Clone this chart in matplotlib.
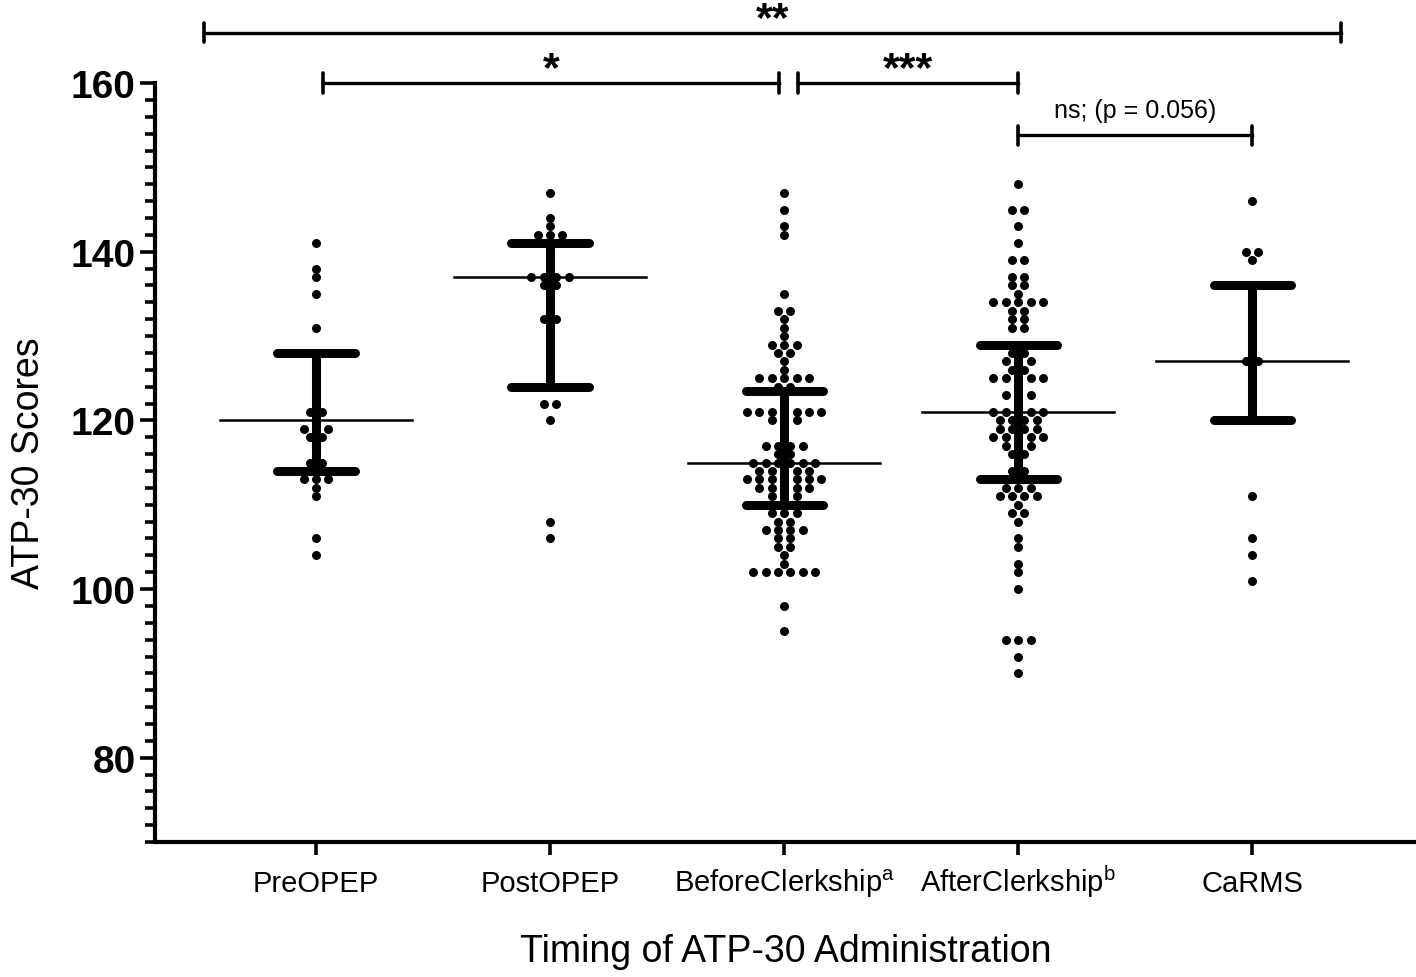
import numpy as np
import matplotlib
matplotlib.use("Agg")
from matplotlib import pyplot as plt
from matplotlib.ticker import MultipleLocator

plt.rcParams['font.family'] = ['Liberation Sans', 'DejaVu Sans']
plt.rcParams['mathtext.fontset'] = 'custom'
plt.rcParams['mathtext.rm'] = 'Liberation Sans'

# data
groups = ["PreOPEP", "PostOPEP", r"BeforeClerkship$^{\mathregular{a}}$",
          r"AfterClerkship$^{\mathregular{b}}$", "CaRMS"]

pre_opep = [141, 138, 137, 135, 131, 121, 121, 119, 119, 119, 118, 118,
            115, 115, 114, 114, 113, 113, 113, 112, 111, 106, 104]
post_opep = [147, 144, 143, 142, 142, 142, 137, 137, 137, 137, 136, 136,
             132, 132, 122, 122, 120, 108, 106]
before_clerk = ([147, 145, 143, 142, 135, 133, 133, 132, 131, 130]
                + [129] * 3 + [128] * 2 + [127, 126] + [125] * 5 + [124] * 2
                + [121] * 7 + [120] * 3 + [117] * 4 + [116] * 2 + [115] * 6
                + [114] * 5 + [113] * 7 + [112] * 5 + [111] * 3 + [110] * 2
                + [109] * 3 + [108] * 2 + [107] * 4 + [106] * 2 + [105] * 2
                + [104, 103] + [102] * 6 + [98, 95])
after_clerk = ([148, 145, 145, 143, 141, 139, 139, 137, 137, 136, 136, 135]
               + [134] * 5 + [133] * 2 + [132] * 2 + [131] * 2 + [128] * 2
               + [127] * 3 + [126] * 2 + [125] * 5 + [123] * 3 + [121] * 5
               + [120] * 4 + [119] * 4 + [118] * 5 + [117] * 3 + [116] * 2
               + [114] * 2 + [112] * 3 + [111] * 4 + [110, 109, 109, 108]
               + [106, 105, 103, 102, 100] + [94] * 3 + [92, 90])
carms = [146, 140, 140, 139, 127, 127, 111, 106, 104, 101]

medians = [120, 137, 115, 121, 127]
q1 = [114, 124, 110, 113, 120]
q3 = [128, 141, 123.5, 129, 136]

# significance brackets: (from, to, height, label)
brackets = [(-0.48, 4.38, 166.0, "**"),
            (0.03, 1.98, 160.0, "*"),
            (2.06, 3.0, 160.0, "***"),
            (3.0, 4.0, 153.8, "ns; (p = 0.056)")]

fig = plt.figure(figsize=(14.16, 9.78), dpi=100)
ax = fig.add_axes([0.1095, 0.138, 0.8905, 0.776])

all_data = [pre_opep, post_opep, before_clerk, after_clerk, carms]
step = 0.053
for i, vals in enumerate(all_data):
    vals = np.array(vals)
    xs = []
    ys = []
    for v in np.unique(vals):
        n = np.sum(vals == v)
        for k in range(n):
            xs.append(i + (k - (n - 1) / 2) * step)
            ys.append(v)
    ax.scatter(xs, ys, s=42, color='black', zorder=3, linewidths=0)
    # median line
    ax.plot([i - 0.41, i + 0.41], [medians[i], medians[i]], color='black', lw=1.8, zorder=4)
    # IQR bar
    ax.plot([i, i], [q1[i], q3[i]], color='black', lw=6.5, zorder=4, solid_capstyle='butt')
    for q in (q1[i], q3[i]):
        ax.plot([i - 0.165, i + 0.165], [q, q], color='black', lw=6.5, zorder=4,
                solid_capstyle='round')

for x0, x1, h, lab in brackets:
    ax.plot([x0, x1], [h, h], color='black', lw=2.4, clip_on=False)
    for xe in (x0, x1):
        ax.plot([xe, xe], [h - 1.15, h + 1.15], color='black', lw=2.6, clip_on=False,
                solid_capstyle='round')
    if lab.startswith("ns"):
        ax.text((x0 + x1) / 2, h + 1.6, lab, ha='center', va='bottom', fontsize=18)
    else:
        ax.text((x0 + x1) / 2, h + 0.3, lab, ha='center', va='baseline', fontsize=31,
                fontweight='bold')

ax.set_xlim(-0.688, 4.70)
ax.set_ylim(70, 160)
ax.set_xticks(range(5))
ax.set_xticklabels(groups, fontsize=21)
for lab in ax.get_xticklabels():
    lab.set_va('baseline')
ax.set_yticks([80, 100, 120, 140, 160])
ax.yaxis.set_minor_locator(MultipleLocator(2))
for lab in ax.get_yticklabels():
    lab.set_fontweight('bold')
    lab.set_fontsize(28)
ax.tick_params(axis='y', which='major', length=11, width=2.6, pad=3)
ax.tick_params(axis='y', which='minor', length=7, width=2.6)
ax.tick_params(axis='x', length=9, width=2.6, pad=26)

ax.spines['top'].set_visible(False)
ax.spines['right'].set_visible(False)
ax.spines['left'].set_linewidth(3)
ax.spines['bottom'].set_linewidth(3)

ax.set_ylabel("ATP-30 Scores", fontsize=27, labelpad=17)
ax.set_xlabel("Timing of ATP-30 Administration", fontsize=27, labelpad=25)

fig.savefig("out.png", dpi=100)
